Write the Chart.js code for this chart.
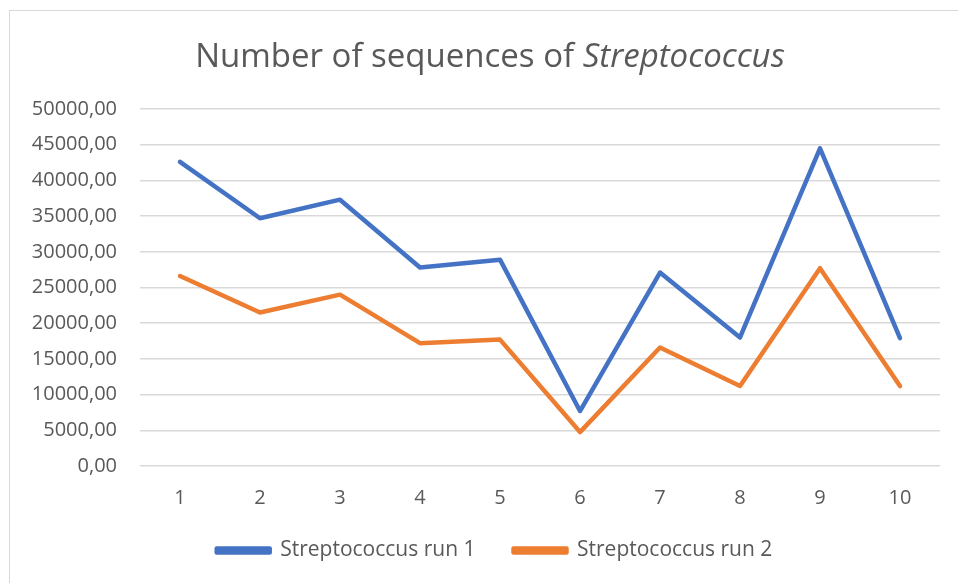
<!DOCTYPE html>
<html><head><meta charset="utf-8">
<script src="https://cdn.jsdelivr.net/npm/chart.js@4"></script>
<style>
html,body{margin:0;padding:0;background:#fff;}
#wrap{position:relative;width:958px;height:583px;overflow:hidden;background:#fff;}
#frame{position:absolute;left:9px;top:10px;width:1100px;height:1100px;border:1px solid #d9d9d9;box-sizing:border-box;}
#title{position:absolute;left:0;top:36px;width:980px;text-align:center;font-family:"Open Sans";font-size:33px;line-height:37px;color:#595959;white-space:nowrap;}
canvas{position:absolute;left:0;top:0;}
</style></head>
<body>
<div id="wrap">
<div id="frame"></div>
<canvas id="c" width="958" height="583"></canvas>
<div id="title">Number of sequences of <i>Streptococcus</i></div>
</div>
<script>
const categories = ['1','2','3','4','5','6','7','8','9','10'];
const run1 = [42600, 34700, 37300, 27800, 28900, 7700, 27100, 18000, 44500, 17900];
const run2 = [26600, 21500, 24000, 17200, 17700, 4750, 16600, 11200, 27700, 11200];
const seriesNames = ['Streptococcus run 1', 'Streptococcus run 2'];
const yMin = 0, yMax = 50000, yStep = 5000;

const FONT = '"Open Sans"';
const TXT = '#595959';

// nudges the legend box (position only) to sit where the reference legend sits
const legendNudge = {
  id: 'legendNudge',
  beforeDraw(chart) {
    const lg = chart.legend;
    if (!lg || lg._nudged) return;
    lg._nudged = true;
    lg.left += 11; lg.right += 11;
    lg.top -= 8; lg.bottom -= 8;
  }
};

new Chart(document.getElementById('c'), {
  type: 'line',
  data: {
    labels: categories,
    datasets: [
      { label: seriesNames[0], data: run1, borderColor: '#4472C4', backgroundColor: '#4472C4' },
      { label: seriesNames[1], data: run2, borderColor: '#ED7D31', backgroundColor: '#ED7D31' }
    ]
  },
  plugins: [legendNudge],
  options: {
    responsive: false,
    animation: false,
    devicePixelRatio: 1,
    layout: { padding: { left: 27, right: 18, top: 109, bottom: 4 } },
    elements: {
      point: { radius: 0, hoverRadius: 0 },
      line: { borderWidth: 4.5, tension: 0, borderCapStyle: 'round', borderJoinStyle: 'round' }
    },
    plugins: {
      title: { display: false },
      tooltip: { enabled: false },
      legend: {
        position: 'bottom',
        labels: {
          boxWidth: 53, boxHeight: 4, padding: 38,
          color: TXT, font: { family: FONT, size: 21 }
        }
      }
    },
    scales: {
      y: {
        min: yMin, max: yMax,
        ticks: {
          stepSize: yStep, padding: 23, color: TXT,
          font: { family: FONT, size: 20 },
          callback: v => v.toFixed(2).replace('.', ',')
        },
        grid: { color: '#d9d9d9', lineWidth: 1.5, drawTicks: false },
        border: { display: false },
        afterFit: s => { s.width = 113; }
      },
      x: {
        offset: true,
        ticks: { padding: 20, color: TXT, font: { family: FONT, size: 20 }, maxRotation: 0, autoSkip: false },
        grid: { display: false, drawTicks: false },
        border: { display: false },
        afterFit: s => { s.height = 44; }
      }
    }
  }
});
</script>
</body></html>
